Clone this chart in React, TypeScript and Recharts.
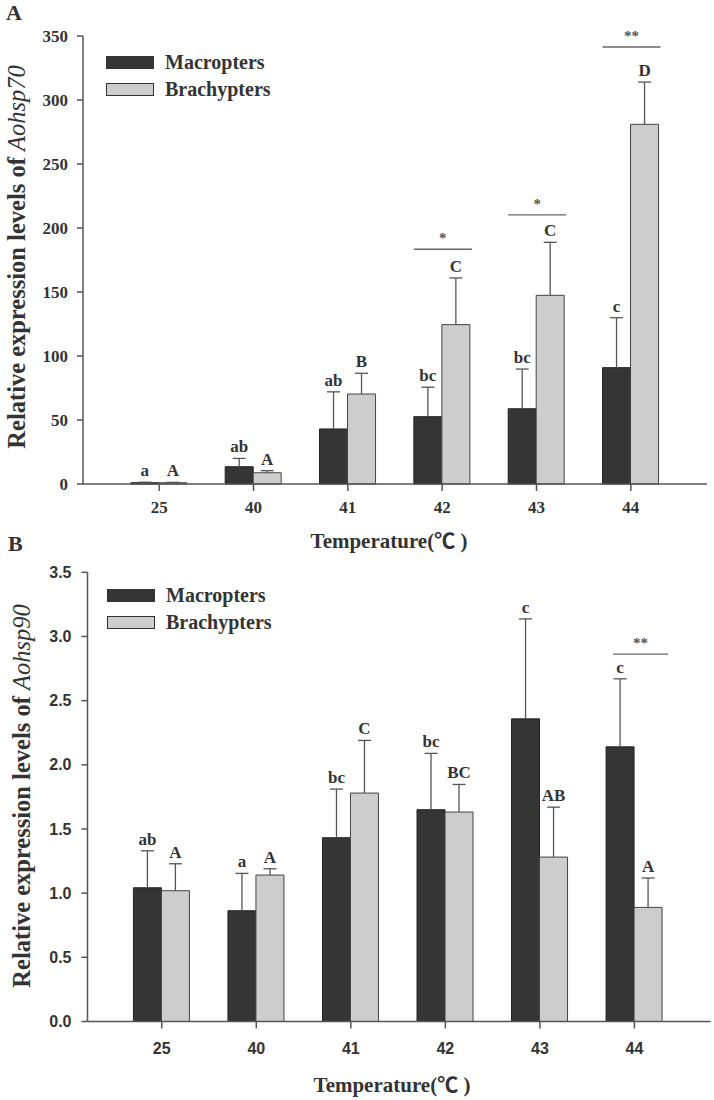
import React from 'react';
import { BarChart, Bar, XAxis, YAxis, Legend, LabelList } from 'recharts';

const temps = ['25', '40', '41', '42', '43', '44'];
const seriesNames = ['Macropters', 'Brachypters'];

// panel A - Aohsp70
const macroA = [1.0, 13.5, 43, 52.6, 58.8, 90.9];
const macroAErr = [0.4, 6.5, 29, 23, 31, 39];
const brachyA = [1.0, 8.8, 70.3, 124.5, 147.4, 281];
const brachyAErr = [0.3, 1.6, 16.2, 36.5, 41.4, 33];
const macroALetters = ['a', 'ab', 'ab', 'bc', 'bc', 'c'];
const brachyALetters = ['A', 'A', 'B', 'C', 'C', 'D'];
const sigALevel = [0, 0, 0, 183.4, 210.2, 341.4];
const sigALabels = ['', '', '', '*', '*', '**'];
const ticksA = [0, 50, 100, 150, 200, 250, 300, 350];

// panel B - Aohsp90
const macroB = [1.042, 0.863, 1.432, 1.65, 2.358, 2.14];
const macroBErr = [0.288, 0.291, 0.379, 0.439, 0.779, 0.53];
const brachyB = [1.019, 1.141, 1.78, 1.632, 1.281, 0.889];
const brachyBErr = [0.21, 0.049, 0.41, 0.215, 0.389, 0.229];
const macroBLetters = ['ab', 'a', 'bc', 'bc', 'c', 'c'];
const brachyBLetters = ['A', 'A', 'C', 'BC', 'AB', 'A'];
const sigBLevel = [0, 0, 0, 0, 0, 2.862];
const sigBLabels = ['', '', '', '', '', '**'];
const ticksB = [0, 0.5, 1, 1.5, 2, 2.5, 3, 3.5];

const serif = '"Liberation Serif", "Times New Roman", serif';
const serifCjk = '"Liberation Serif", "Times New Roman", "Noto Sans CJK SC", serif';
const sans = '"Liberation Sans", Arial, sans-serif';

const buildRows = (
  mac: number[], macErr: number[], bra: number[], braErr: number[],
  macL: string[], braL: string[], sigLevel: number[], sigL: string[]
) =>
  temps.map((t, i) => ({
    temp: t,
    mac: mac[i],
    macErr: macErr[i],
    macLetter: macL[i],
    bra: bra[i],
    braErr: braErr[i],
    braLetter: braL[i],
    sigGap: sigL[i] ? sigLevel[i] - bra[i] - braErr[i] : 0,
    sig: sigL[i],
  }));

const dataA = buildRows(macroA, macroAErr, brachyA, brachyAErr, macroALetters, brachyALetters, sigALevel, sigALabels);
const dataB = buildRows(macroB, macroBErr, brachyB, brachyBErr, macroBLetters, brachyBLetters, sigBLevel, sigBLabels);

// error whisker drawn on the transparent stacked segment
const Whisker = (props: any) => {
  const { x, y, width, height } = props;
  if (x == null || y == null) return <g />;
  const cx = x + width / 2;
  return (
    <g stroke="#555" strokeWidth={1.3}>
      <line x1={cx} y1={y + height} x2={cx} y2={y} />
      <line x1={cx - 6.5} y1={y} x2={cx + 6.5} y2={y} />
    </g>
  );
};

const Empty = () => <g />;

const box = (p: any) => {
  const vb = p.viewBox && p.viewBox.x != null ? p.viewBox : p;
  return { x: vb.x, y: vb.y, width: vb.width };
};

const letterContent = (p: any) => {
  if (!p.value) return null;
  const { x, y, width } = box(p);
  return (
    <text x={x + width / 2} y={y - 6} textAnchor="middle" fill="#333" fontSize={17}
      fontWeight="bold" fontFamily={serif}>
      {p.value}
    </text>
  );
};

const sigContent = (left: number, right: number) => (p: any) => {
  if (!p.value) return null;
  const { x, y, width } = box(p);
  const x1 = x - width + left;
  const x2 = x + width + right;
  return (
    <g>
      <line x1={x1} y1={y} x2={x2} y2={y} stroke="#666" strokeWidth={1.3} />
      <text x={(x1 + x2) / 2} y={y - 6} textAnchor="middle" fill="#555" fontSize={15}
        fontWeight="bold" fontFamily={serif}>
        {p.value}
      </text>
    </g>
  );
};

const LegendBox = (props: any) => {
  const items = (props.payload || [])
    .filter((it: any) => seriesNames.includes(it.value))
    .sort((a: any, b: any) => seriesNames.indexOf(a.value) - seriesNames.indexOf(b.value));
  return (
    <div style={{ fontFamily: serif, fontWeight: 'bold', fontSize: 20, color: '#333' }}>
      {items.map((it: any, i: number) => (
        <div key={i} style={{ display: 'flex', alignItems: 'center', height: props.rowH }}>
          <span style={{ display: 'inline-block', width: props.swW, height: 11, background: it.color,
            border: '1px solid #333', marginRight: 11 }} />
          <span>{it.value}</span>
        </div>
      ))}
    </div>
  );
};

interface PanelProps {
  data: any[];
  height: number;
  margin: any;
  domain: [number, number];
  ticks: number[];
  padding: { left: number; right: number };
  tickFont: string;
  xTickMargin: number;
  yTickMargin: number;
  fmt?: (v: number) => string;
  legendPos: { left: number; top: number };
  rowH: number;
  sig: [number, number];
}

const Panel: React.FC<PanelProps> = (p) => {
  const tickStyle = { fill: '#333', fontSize: p.tickFont === serif ? 17 : 16, fontWeight: 'bold', fontFamily: p.tickFont };
  return (
    <BarChart width={714} height={p.height} data={p.data} margin={p.margin} barCategoryGap="20%" barGap={0}>
      <XAxis dataKey="temp" interval={0} padding={p.padding} tickSize={7} tickMargin={p.xTickMargin}
        axisLine={{ stroke: '#555', strokeWidth: 1.5 }} tickLine={{ stroke: '#555', strokeWidth: 1.5 }} tick={tickStyle} />
      <YAxis width={60} domain={p.domain} ticks={p.ticks} interval={0} tickSize={6} tickMargin={p.yTickMargin}
        tickFormatter={p.fmt} axisLine={{ stroke: '#555', strokeWidth: 1.5 }}
        tickLine={{ stroke: '#555', strokeWidth: 1.5 }} tick={tickStyle} />
      <Legend layout="vertical" align="center" verticalAlign="middle"
        wrapperStyle={{ left: p.legendPos.left, top: p.legendPos.top, width: 'auto', height: 'auto' }}
        content={(props: any) => <LegendBox {...props} rowH={p.rowH} swW={46} />} />
      <Bar dataKey="mac" stackId="m" name={seriesNames[0]} fill="#353535" stroke="#222" strokeWidth={1}
        isAnimationActive={false} />
      <Bar dataKey="macErr" stackId="m" legendType="none" shape={Whisker} isAnimationActive={false}>
        <LabelList dataKey="macLetter" content={letterContent} />
      </Bar>
      <Bar dataKey="bra" stackId="b" name={seriesNames[1]} fill="#cdcdcd" stroke="#444" strokeWidth={1}
        isAnimationActive={false} />
      <Bar dataKey="braErr" stackId="b" legendType="none" shape={Whisker} isAnimationActive={false}>
        <LabelList dataKey="braLetter" content={letterContent} />
      </Bar>
      <Bar dataKey="sigGap" stackId="b" legendType="none" shape={Empty} isAnimationActive={false}>
        <LabelList dataKey="sig" content={sigContent(p.sig[0], p.sig[1])} />
      </Bar>
    </BarChart>
  );
};

export default function App() {
  return (
    <div style={{ position: 'absolute', left: 0, top: 0, width: 714, height: 1100, background: '#fff' }}>
      <div style={{ position: 'absolute', left: 0, top: 0 }}>
        <Panel data={dataA} height={550} margin={{ top: 36, right: 7, bottom: 36, left: 23 }}
          domain={[0, 350]} ticks={ticksA} padding={{ left: 29, right: 29 }} tickFont={serif}
          xTickMargin={10} yTickMargin={9} legendPos={{ left: 106, top: 49 }} rowH={27} sig={[0, 2]} />
      </div>
      <div style={{ position: 'absolute', left: 0, top: 540 }}>
        <Panel data={dataB} height={560} margin={{ top: 32.3, right: 3.3, bottom: 48.5, left: 27.5 }}
          domain={[0, 3.5]} ticks={ticksB} padding={{ left: 27, right: 29 }} tickFont={sans}
          xTickMargin={14} yTickMargin={10} fmt={(v: number) => v.toFixed(1)}
          legendPos={{ left: 107, top: 42.4 }} rowH={26.7} sig={[7, 6]} />
      </div>
      <svg width={714} height={1100} style={{ position: 'absolute', left: 0, top: 0, pointerEvents: 'none' }}>
        <g fontFamily={serif} fill="#333">
          <text x={6} y={20} fontSize={22} fontWeight="bold">A</text>
          <text x={8} y={551} fontSize={22} fontWeight="bold">B</text>
          <text transform="rotate(-90)" x={-257} y={25} textAnchor="middle" fontSize={24.5} style={{ whiteSpace: 'pre' }}>
            <tspan fontWeight="bold">Relative expression levels of </tspan>
            <tspan fontStyle="italic">Aohsp70</tspan>
          </text>
          <text transform="rotate(-90)" x={-796} y={30} textAnchor="middle" fontSize={24.5} style={{ whiteSpace: 'pre' }}>
            <tspan fontWeight="bold">Relative expression levels of </tspan>
            <tspan fontStyle="italic">Aohsp90</tspan>
          </text>
          <text x={389} y={548} textAnchor="middle" fontSize={21} fontWeight="bold" fontFamily={serifCjk}>Temperature(℃ )</text>
          <text x={392} y={1092} textAnchor="middle" fontSize={21} fontWeight="bold" fontFamily={serifCjk}>Temperature(℃ )</text>
        </g>
      </svg>
    </div>
  );
}
